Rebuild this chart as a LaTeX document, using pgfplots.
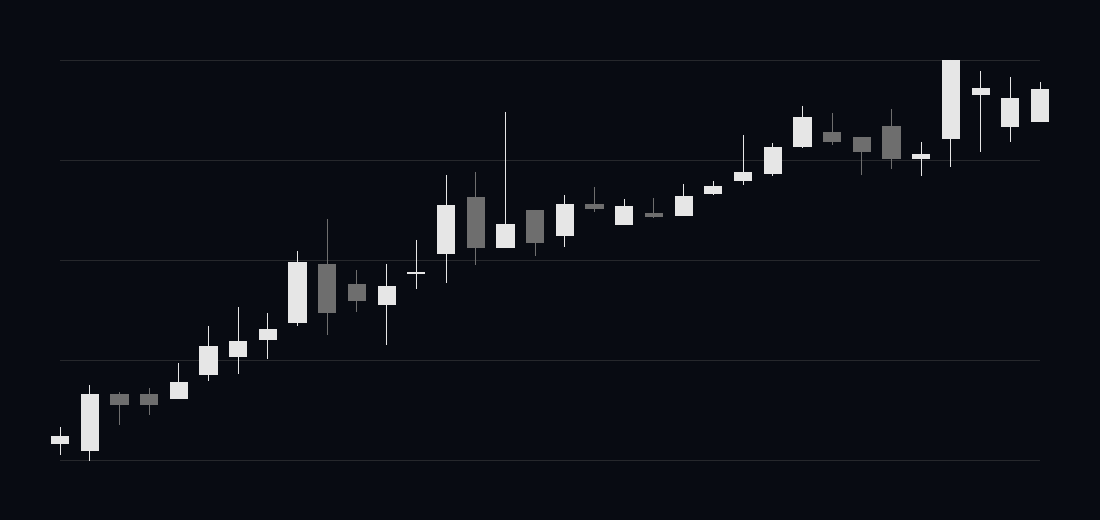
\documentclass[border=0pt]{standalone}
\usepackage{pgfplots}
\pgfplotsset{compat=1.18}
\usepgfplotslibrary{statistics}
\definecolor{bgc}{RGB}{8,11,18}
\definecolor{gridc}{RGB}{38,40,44}
\definecolor{upc}{RGB}{230,230,230}
\definecolor{dnc}{RGB}{110,110,110}
\newcommand{\up}[5]{\addplot[draw=upc, fill=upc, line width=0.55pt, solid, mark=none, boxplot prepared={draw position=#1, lower whisker=#2, lower quartile=#3, median=#3, upper quartile=#4, upper whisker=#5}] coordinates {};}
\newcommand{\dn}[5]{\addplot[draw=dnc, fill=dnc, line width=0.55pt, solid, mark=none, boxplot prepared={draw position=#1, lower whisker=#2, lower quartile=#3, median=#3, upper quartile=#4, upper whisker=#5}] coordinates {};}
\begin{document}
\begin{tikzpicture}
\fill[bgc] (0,0) rectangle (22cm,10.4cm);
\begin{axis}[
  at={(1.2cm,1.2cm)}, anchor=south west,
  scale only axis, width=19.6cm, height=8cm,
  xmin=0, xmax=33, ymin=0, ymax=400,
  clip=false,
  axis line style={draw=none},
  xtick=\empty, ytick={0,100,200,300,400},
  yticklabels={}, major tick length=0pt,
  ymajorgrids, grid style={color=gridc, line width=0.55pt},
  boxplot/draw direction=y,
  boxplot/box extend=0.58,
  boxplot/whisker extend=0,
]
% position, low, body-low, body-high, high
\up{0}{5}{17}{24}{33}
\up{1}{-1}{10}{66}{75}
\dn{2}{35}{56}{66}{68}
\dn{3}{45}{56}{66}{72}
\up{4}{62}{62}{78}{97}
\up{5}{79}{86}{114}{134}
\up{6}{86}{104}{119}{153}
\up{7}{101}{121}{131}{147}
\up{8}{134}{138}{198}{209}
\dn{9}{125}{148}{196}{241}
\dn{10}{148}{160}{176}{190}
\up{11}{115}{156}{174}{196}
\up{12}{171}{186.7}{187.3}{220}
\up{13}{177}{207}{255}{285}
\dn{14}{195}{213}{263}{288}
\up{15}{213}{213}{236}{348}
\dn{16}{204}{218}{250}{250}
\up{17}{213}{225}{256}{265}
\dn{18}{248}{252}{256}{273}
\up{19}{235}{236}{254}{261}
\dn{20}{242}{244}{247}{262}
\up{21}{245}{245}{264}{276}
\up{22}{265}{267}{274}{279}
\up{23}{275}{280}{288}{325}
\up{24}{284}{287}{313}{317}
\up{25}{312}{314}{343}{354}
\dn{26}{315}{319}{328}{347}
\dn{27}{285}{309}{323}{323}
\dn{28}{291}{302}{334}{351}
\up{29}{284}{302}{306}{318}
\up{30}{293}{322}{400}{400}
\up{31}{308}{366}{372}{389}
\up{32}{318}{334}{362}{383}
\up{33}{339}{339}{371}{378}
\end{axis}
\end{tikzpicture}
\end{document}
